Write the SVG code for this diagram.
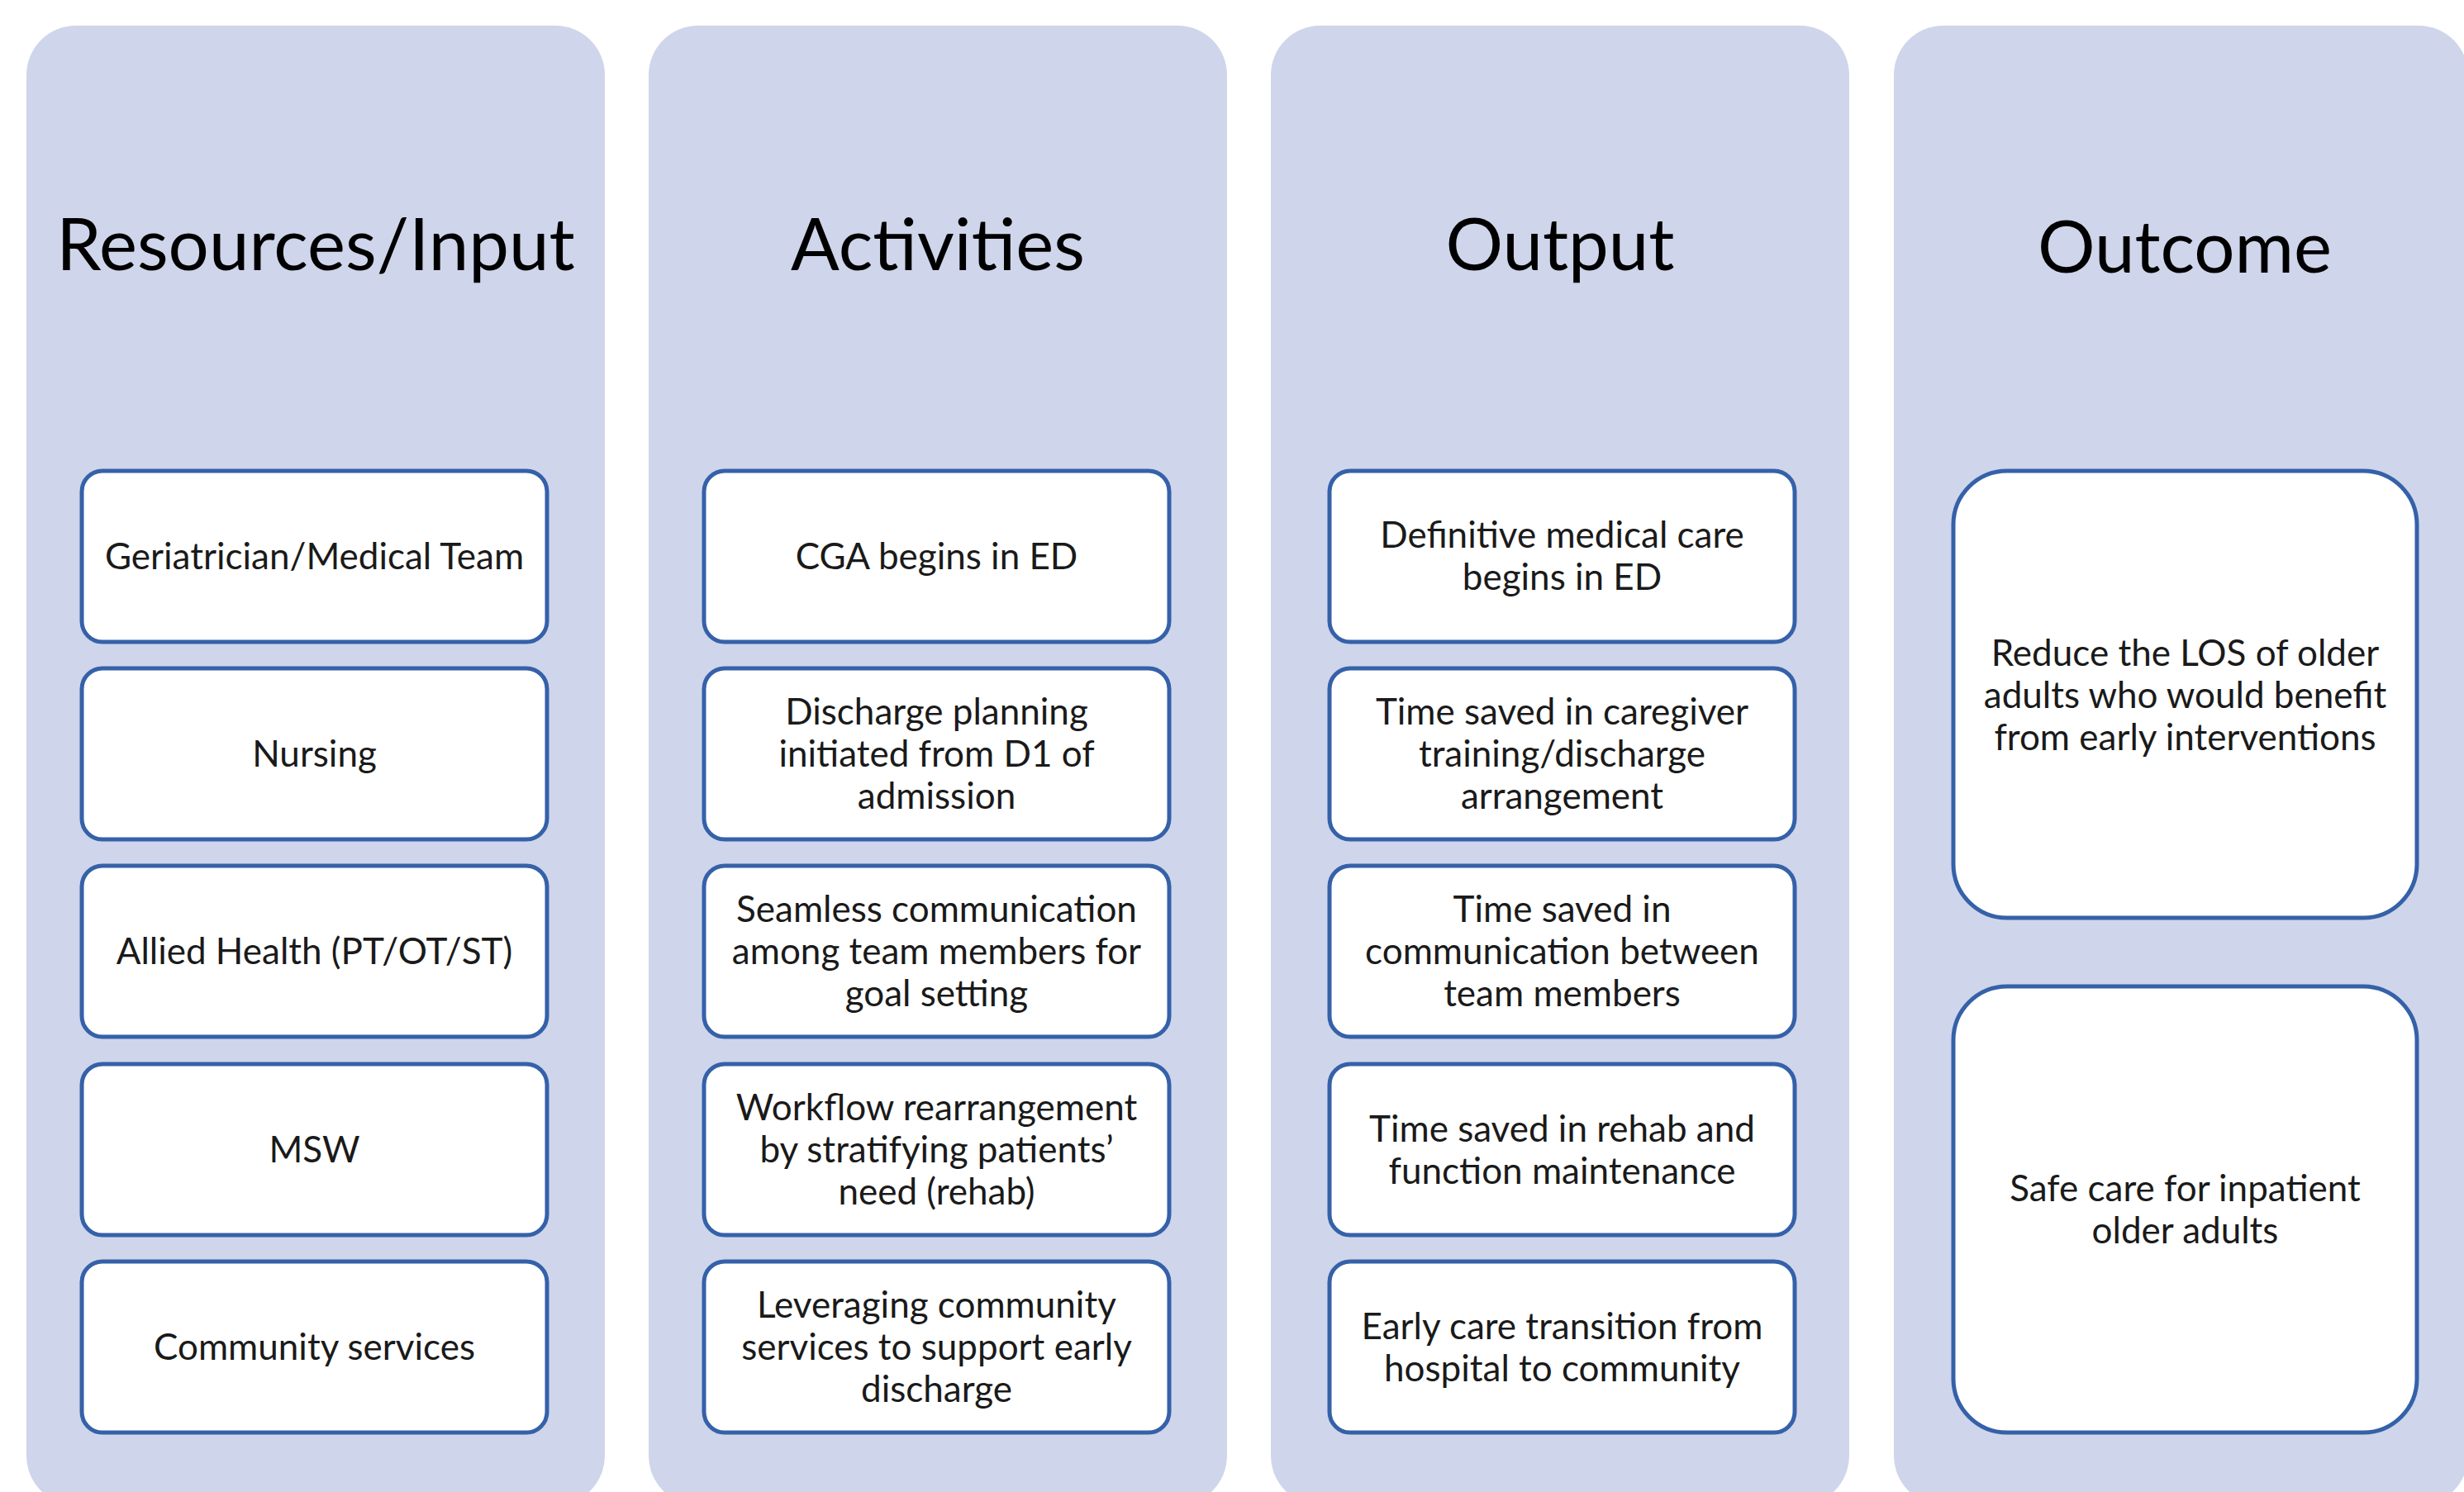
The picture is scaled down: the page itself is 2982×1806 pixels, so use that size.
<svg xmlns="http://www.w3.org/2000/svg" width="2982" height="1806" viewBox="0 0 2982 1806">
<style>
.panel{fill:#CFD5EA;}
.box{fill:#FFFFFF;stroke:#3561A9;stroke-width:5;}
.title{font-family:Lato,"Open Sans",sans-serif;font-size:87px;fill:#000;text-anchor:middle;}
.t{font-family:Lato,"Open Sans",sans-serif;font-size:44px;fill:#1a1a1a;text-anchor:middle;}
</style>
<rect x="0" y="0" width="2982" height="1806" fill="#FFFFFF"/>
<g id="panel-resources">
<rect class="panel" x="32" y="31" width="700" height="1791" rx="60"/>
<text class="title" x="382" y="327">Resources/Input</text>
</g>
<g id="panel-activities">
<rect class="panel" x="785" y="31" width="700" height="1791" rx="60"/>
<text class="title" x="1135" y="327">Activities</text>
</g>
<g id="panel-output">
<rect class="panel" x="1538" y="31" width="700" height="1791" rx="60"/>
<text class="title" x="1888" y="327">Output</text>
</g>
<g id="panel-outcome">
<rect class="panel" x="2292" y="31" width="695" height="1791" rx="60"/>
<text class="title" x="2644" y="330">Outcome</text>
</g>
<g id="connectors"></g>
<g id="r1"><rect class="box" x="99" y="570" width="563" height="207" rx="25"/><text class="t" x="380.5" y="689">Geriatrician/Medical Team</text></g>
<g id="r2"><rect class="box" x="99" y="809" width="563" height="207" rx="25"/><text class="t" x="380.5" y="928">Nursing</text></g>
<g id="r3"><rect class="box" x="99" y="1048" width="563" height="207" rx="25"/><text class="t" x="380.5" y="1167">Allied Health (PT/OT/ST)</text></g>
<g id="r4"><rect class="box" x="99" y="1288" width="563" height="207" rx="25"/><text class="t" x="380.5" y="1407">MSW</text></g>
<g id="r5"><rect class="box" x="99" y="1527" width="563" height="207" rx="25"/><text class="t" x="380.5" y="1646">Community services</text></g>
<g id="a1"><rect class="box" x="852" y="570" width="563" height="207" rx="25"/><text class="t" x="1133.5" y="689">CGA begins in ED</text></g>
<g id="a2"><rect class="box" x="852" y="809" width="563" height="207" rx="25"/><text class="t" x="1133.5" y="877">Discharge planning<tspan x="1133.5" dy="51">initiated from D1 of</tspan><tspan x="1133.5" dy="51">admission</tspan></text></g>
<g id="a3"><rect class="box" x="852" y="1048" width="563" height="207" rx="25"/><text class="t" x="1133.5" y="1116">Seamless communication<tspan x="1133.5" dy="51">among team members for</tspan><tspan x="1133.5" dy="51">goal setting</tspan></text></g>
<g id="a4"><rect class="box" x="852" y="1288" width="563" height="207" rx="25"/><text class="t" x="1133.5" y="1356">Workflow rearrangement<tspan x="1133.5" dy="51">by stratifying patients’</tspan><tspan x="1133.5" dy="51">need (rehab)</tspan></text></g>
<g id="a5"><rect class="box" x="852" y="1527" width="563" height="207" rx="25"/><text class="t" x="1133.5" y="1595">Leveraging community<tspan x="1133.5" dy="51">services to support early</tspan><tspan x="1133.5" dy="51">discharge</tspan></text></g>
<g id="o1"><rect class="box" x="1609" y="570" width="563" height="207" rx="25"/><text class="t" x="1890.5" y="663">Definitive medical care<tspan x="1890.5" dy="51">begins in ED</tspan></text></g>
<g id="o2"><rect class="box" x="1609" y="809" width="563" height="207" rx="25"/><text class="t" x="1890.5" y="877">Time saved in caregiver<tspan x="1890.5" dy="51">training/discharge</tspan><tspan x="1890.5" dy="51">arrangement</tspan></text></g>
<g id="o3"><rect class="box" x="1609" y="1048" width="563" height="207" rx="25"/><text class="t" x="1890.5" y="1116">Time saved in<tspan x="1890.5" dy="51">communication between</tspan><tspan x="1890.5" dy="51">team members</tspan></text></g>
<g id="o4"><rect class="box" x="1609" y="1288" width="563" height="207" rx="25"/><text class="t" x="1890.5" y="1382">Time saved in rehab and<tspan x="1890.5" dy="51">function maintenance</tspan></text></g>
<g id="o5"><rect class="box" x="1609" y="1527" width="563" height="207" rx="25"/><text class="t" x="1890.5" y="1621">Early care transition from<tspan x="1890.5" dy="51">hospital to community</tspan></text></g>
<g id="c1"><rect class="box" x="2364" y="570" width="561" height="541" rx="65"/><text class="t" x="2644.5" y="806">Reduce the LOS of older<tspan x="2644.5" dy="51">adults who would benefit</tspan><tspan x="2644.5" dy="51">from early interventions</tspan></text></g>
<g id="c2"><rect class="box" x="2364" y="1194" width="561" height="540" rx="65"/><text class="t" x="2644.5" y="1454">Safe care for inpatient<tspan x="2644.5" dy="51">older adults</tspan></text></g>
</svg>
